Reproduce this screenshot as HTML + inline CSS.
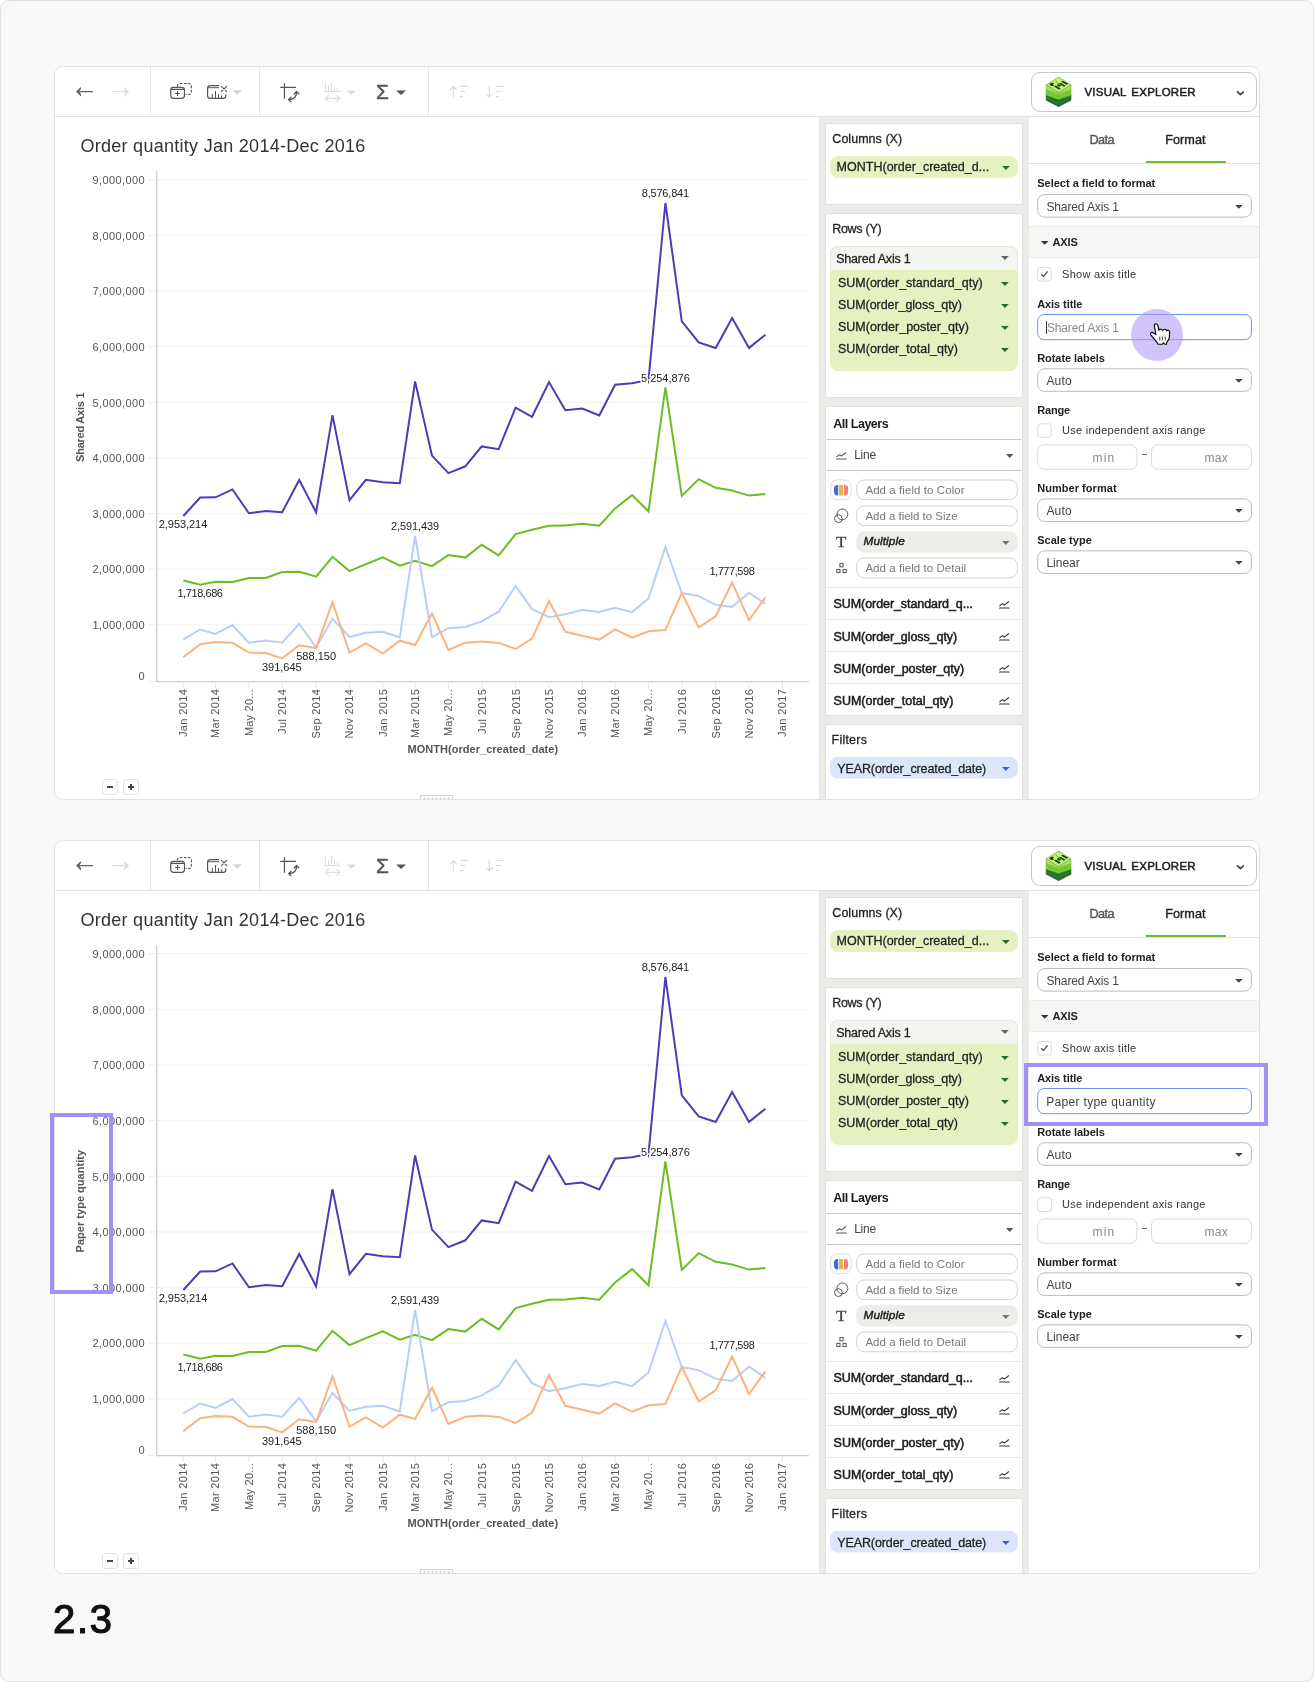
<!DOCTYPE html><html><head><meta charset="utf-8"><title>2.3</title><style>
*{box-sizing:border-box}
html,body{margin:0;padding:0;background:#fff}
body{width:1314px;height:1682px;position:relative;overflow:hidden;font-family:"Liberation Sans",sans-serif}
.page{position:absolute;left:0;top:0;width:1314px;height:1682px;background:#f8f8f6;border:1px solid #dee1dd;border-radius:9px}
.panel{position:absolute;left:0;width:1314px;height:0;will-change:transform}
.frame{position:absolute;left:54px;top:66px;width:1206px;height:734px;border:1px solid #e1e1de;border-radius:9px;background:#fff;overflow:hidden}
.o{position:absolute;left:-55px;top:-67px;width:1314px;height:900px}
.t{position:absolute;white-space:nowrap;font-family:"Liberation Sans",sans-serif}
.b{position:absolute;display:block}
.card{position:absolute;background:#fff;border:1px solid #dfe2dc}
.inp{position:absolute;background:#fff;border:1px solid #cfd3ce;border-radius:7px}
.sel{position:absolute;background:#fff;border:1px solid #b9bfba;border-radius:7px}
.hl{position:absolute;border:4px solid #a48ff7}
svg text{font-family:"Liberation Sans",sans-serif}
</style></head><body><div class="page"></div><div class="panel" style="top:0px"><div class="frame"><div class="o"><div class="b" style="left:55px;top:116px;width:1204px;height:1px;background:#e2e3e0"></div><div class="b" style="left:150px;top:67px;width:1px;height:49px;background:#e6e7e4"></div><div class="b" style="left:259px;top:67px;width:1px;height:49px;background:#e6e7e4"></div><div class="b" style="left:428px;top:67px;width:1px;height:49px;background:#e6e7e4"></div><svg class="b" style="left:55px;top:67px" width="500" height="49" viewBox="55 67 500 49" fill="none" stroke-linecap="round" stroke-linejoin="round"><path d="M92.8 91.55H78.6" stroke="#606360" stroke-width="1.25" stroke-linecap="butt"/><path d="M76 91.55L81 87V88.9L79.1 91.55L81 94.2V96.4Z" fill="#606360" stroke="none"/><path d="M112.2 91.55H126.4" stroke="#dcdcdc" stroke-width="1.25" stroke-linecap="butt"/><path d="M129 91.55L124 87V88.9L125.9 91.55L124 94.2V96.4Z" fill="#dcdcdc" stroke="none"/><path d="M177.4 86.6V86.2Q177.4 83.5 180.2 83.5H188.6Q191.4 83.5 191.4 86.2V91.8Q191.4 94.5 188.6 94.5H185.4" stroke="#555" stroke-width="1.1" stroke-dasharray="2.7 1.5" stroke-linecap="butt"/><rect x="170.7" y="87.4" width="13.8" height="11" rx="2.8" fill="#fff" stroke="#555" stroke-width="1.2"/><path d="M171.2 89.4H184M177.5 91.1V95.9M175.1 93.5H179.9" stroke="#555" stroke-width="1.1" stroke-linecap="butt"/><path d="M219 85.6H210.2Q207.6 85.6 207.6 88.2V95.7Q207.6 98.3 210.2 98.3H223.2Q225.8 98.3 225.8 95.7V94.2" stroke="#555" stroke-width="1.15" stroke-linecap="butt"/><path d="M207.8 87.7H219" stroke="#555" stroke-width="1" stroke-linecap="butt"/><path d="M212.3 94V98M215.5 91.1V98M218.5 94V98M221.6 95.4V98" stroke="#555" stroke-width="1.05" stroke-linecap="butt"/><path d="M221.3 86.3L226.7 91.7M226.7 86.3L221.3 91.7" stroke="#555" stroke-width="1.05"/><path d="M232.4 90.3H242L237.2 94.8Z" fill="#d3d6d3"/><path d="M284.45 83.2V98.7M280.2 87.45H296" stroke="#555" stroke-width="1.25" stroke-linecap="butt"/><path d="M296.6 92.2Q296.6 98.8 289.4 99.5" stroke="#555" stroke-width="1.3"/><path d="M294.3 94L296.6 91.5L298.9 93.9M291 97.2L288.6 99.6L290.9 101.8" stroke="#555" stroke-width="1.3"/><path d="M325.3 82.1V91.5H339.9M328.5 86.2V91.2M331.6 82.1V91.2M334.6 86.2V91.2M337.5 88.4V91.2" stroke="#dcdcdc" stroke-width="1.05" stroke-linecap="butt"/><path d="M325.6 98.4H339.6M328.4 95.4L325.3 98.4L328.4 101.4M336.8 95.4L339.9 98.4L336.8 101.4" stroke="#dcdcdc" stroke-width="1.3"/><path d="M346.6 90.5H356L351.3 94.8Z" fill="#d9dbd9"/><path d="M396.1 90.6H406L401.05 95Z" fill="#555"/><path d="M453.4 97V86.6M450.4 89.6L453.4 86.5L456.4 89.6" stroke="#dcdcdc" stroke-width="1.2"/><path d="M460.0 86.4H468.0M460.0 91.5H465.2M460.0 96.6H463.0" stroke="#dcdcdc" stroke-width="1.1" stroke-linecap="butt"/><path d="M489.3 86.3V96.8M486.3 93.8L489.3 96.9L492.3 93.8" stroke="#dcdcdc" stroke-width="1.2"/><path d="M495.90000000000003 86.4H503.90000000000003M495.90000000000003 91.5H501.1M495.90000000000003 96.6H498.90000000000003" stroke="#dcdcdc" stroke-width="1.1" stroke-linecap="butt"/></svg><span class="t" id="sig1" style="top:82.08px;font-size:19.4px;color:#555;line-height:20px;-webkit-text-stroke:0.5px #555;left:376.35px;transform:scaleX(1.07);transform-origin:0 50%;">Σ</span><div class="b" style="left:1031px;top:72px;width:226px;height:40px;border:1px solid #c2cac5;border-radius:9px;background:#fff"></div><svg class="b" style="left:1040px;top:72px" width="40" height="40" viewBox="1040 72 40 40"><path d="M1046.2 94.6L1058.6 98.6L1071.0 94.6L1071.0 100.3L1058.6 106.7L1046.2 100.3Z" fill="#22702d" stroke="#1c6229" stroke-width="0.6" stroke-linejoin="round"/><path d="M1046.2 97.6L1058.6 103.2L1071.0 97.6" fill="none" stroke="#2f8236" stroke-width="0.9"/><path d="M1046.2 88.8L1058.6 93.4L1071.0 88.8L1071.0 95.3L1058.6 99.6L1046.2 95.3Z" fill="#7ccd33" stroke="#5aa82c" stroke-width="0.5" stroke-linejoin="round"/><path d="M1046.2 92.2L1058.6 97.0L1071.0 92.2" fill="none" stroke="#64b52c" stroke-width="0.6"/><path d="M1046.2 84.8L1058.6 92.6L1071.0 84.8L1071.0 89.4L1058.6 94.4L1046.2 89.4Z" fill="#b6ea5f" stroke="#5e9e36" stroke-width="0.5" stroke-linejoin="round"/><path d="M1046.2 87.0L1058.6 93.6L1071.0 87.0" fill="none" stroke="#7fb848" stroke-width="0.45"/><path d="M1046.2 84.8L1058.6 77.0L1071.0 84.8L1058.6 92.6Z" fill="#c6f66f" stroke="#5e9e36" stroke-width="0.55" stroke-linejoin="round"/><path d="M1048.4 84.8L1058.6 78.4L1068.8 84.8L1058.6 91.2Z" fill="none" stroke="#a4d85a" stroke-width="0.4" stroke-linejoin="round"/><g fill="#0b4227" transform="translate(1058.6 84.8) scale(1.18) translate(-1058.9 -85.1)"><path d="M1051.2 84.6c.5-1.3 2.4-1.7 3.9-1l-1.1 1.1 1.1 1.1c-1.2.7-3.3.3-3.9-1.2z"/><path d="M1061 82.5l1.5-.9 4.6 2.6-1.5.9z"/><path d="M1059 84.2l1.5-.9 4.4 2.6-1.5.9z"/><path d="M1055 86.6l1.5-.9 4.2 2.6-1.5.9z"/><path d="M1057.2 85.4l1.5-.9 2.4 1.4-1.5.9z"/></g><path d="M1055.4 80.6l3.8 3.4" stroke="#4f8a38" stroke-width="0.9" fill="none" opacity="0.8"/></svg><span class="t" id="t2" style="top:82.22px;font-size:11.5px;color:#222;line-height:20px;-webkit-text-stroke:0.5px #222;letter-spacing:0.234px;left:1084.45px;word-spacing:1.6px;">VISUAL EXPLORER</span><svg class="b" style="left:1236px;top:90px" width="9" height="7" viewBox="0 0 9 7"><path d="M1.4 1.8L4.4 4.7L7.4 1.8" fill="none" stroke="#444" stroke-width="1.6" stroke-linecap="round" stroke-linejoin="round"/></svg><span class="t" id="t3" style="top:136.26px;font-size:18px;color:#333;line-height:20px;letter-spacing:0.282px;left:80.40px;">Order quantity Jan 2014-Dec 2016</span><svg class="b" style="left:55px;top:117px" width="764" height="682" viewBox="55 117 764 682"><line x1="148.5" x2="154.5" y1="681.50" y2="681.50" stroke="#ebebeb" stroke-width="1"/><text x="144.6" y="680.0" text-anchor="end" font-size="11" fill="#555">0</text><line x1="157" x2="808" y1="624.86" y2="624.86" stroke="#f1f1f1" stroke-width="1"/><line x1="148.5" x2="154.5" y1="624.86" y2="624.86" stroke="#ebebeb" stroke-width="1"/><text x="144.6" y="629.1" text-anchor="end" font-size="11" fill="#555" textLength="52.1" lengthAdjust="spacing">1,000,000</text><line x1="157" x2="808" y1="569.21" y2="569.21" stroke="#f1f1f1" stroke-width="1"/><line x1="148.5" x2="154.5" y1="569.21" y2="569.21" stroke="#ebebeb" stroke-width="1"/><text x="144.6" y="573.4" text-anchor="end" font-size="11" fill="#555" textLength="52.1" lengthAdjust="spacing">2,000,000</text><line x1="157" x2="808" y1="513.57" y2="513.57" stroke="#f1f1f1" stroke-width="1"/><line x1="148.5" x2="154.5" y1="513.57" y2="513.57" stroke="#ebebeb" stroke-width="1"/><text x="144.6" y="517.8" text-anchor="end" font-size="11" fill="#555" textLength="52.1" lengthAdjust="spacing">3,000,000</text><line x1="157" x2="808" y1="457.92" y2="457.92" stroke="#f1f1f1" stroke-width="1"/><line x1="148.5" x2="154.5" y1="457.92" y2="457.92" stroke="#ebebeb" stroke-width="1"/><text x="144.6" y="462.1" text-anchor="end" font-size="11" fill="#555" textLength="52.1" lengthAdjust="spacing">4,000,000</text><line x1="157" x2="808" y1="402.27" y2="402.27" stroke="#f1f1f1" stroke-width="1"/><line x1="148.5" x2="154.5" y1="402.27" y2="402.27" stroke="#ebebeb" stroke-width="1"/><text x="144.6" y="406.5" text-anchor="end" font-size="11" fill="#555" textLength="52.1" lengthAdjust="spacing">5,000,000</text><line x1="157" x2="808" y1="346.63" y2="346.63" stroke="#f1f1f1" stroke-width="1"/><line x1="148.5" x2="154.5" y1="346.63" y2="346.63" stroke="#ebebeb" stroke-width="1"/><text x="144.6" y="350.8" text-anchor="end" font-size="11" fill="#555" textLength="52.1" lengthAdjust="spacing">6,000,000</text><line x1="157" x2="808" y1="290.98" y2="290.98" stroke="#f1f1f1" stroke-width="1"/><line x1="148.5" x2="154.5" y1="290.98" y2="290.98" stroke="#ebebeb" stroke-width="1"/><text x="144.6" y="295.2" text-anchor="end" font-size="11" fill="#555" textLength="52.1" lengthAdjust="spacing">7,000,000</text><line x1="157" x2="808" y1="235.34" y2="235.34" stroke="#f1f1f1" stroke-width="1"/><line x1="148.5" x2="154.5" y1="235.34" y2="235.34" stroke="#ebebeb" stroke-width="1"/><text x="144.6" y="239.5" text-anchor="end" font-size="11" fill="#555" textLength="52.1" lengthAdjust="spacing">8,000,000</text><line x1="157" x2="808" y1="179.69" y2="179.69" stroke="#f1f1f1" stroke-width="1"/><line x1="148.5" x2="154.5" y1="179.69" y2="179.69" stroke="#ebebeb" stroke-width="1"/><text x="144.6" y="183.9" text-anchor="end" font-size="11" fill="#555" textLength="52.1" lengthAdjust="spacing">9,000,000</text><line x1="156.7" x2="156.7" y1="171.2" y2="682" stroke="#cfcfcf" stroke-width="1.3"/><line x1="156" x2="808.8" y1="681.6" y2="681.6" stroke="#cfcfcf" stroke-width="1.3"/><line x1="183.30" x2="183.30" y1="682" y2="688" stroke="#e6e6e6" stroke-width="1.1"/><text transform="translate(187.20,689.2) rotate(-90)" text-anchor="end" font-size="11" fill="#555" textLength="47.9" lengthAdjust="spacing">Jan 2014</text><line x1="215.55" x2="215.55" y1="682" y2="688" stroke="#e6e6e6" stroke-width="1.1"/><text transform="translate(219.45,689.2) rotate(-90)" text-anchor="end" font-size="11" fill="#555" textLength="48.8" lengthAdjust="spacing">Mar 2014</text><line x1="248.89" x2="248.89" y1="682" y2="688" stroke="#e6e6e6" stroke-width="1.1"/><text transform="translate(252.79,689.2) rotate(-90)" text-anchor="end" font-size="11" fill="#555" textLength="46.9" lengthAdjust="spacing">May 20...</text><line x1="282.23" x2="282.23" y1="682" y2="688" stroke="#e6e6e6" stroke-width="1.1"/><text transform="translate(286.13,689.2) rotate(-90)" text-anchor="end" font-size="11" fill="#555" textLength="44.9" lengthAdjust="spacing">Jul 2014</text><line x1="316.12" x2="316.12" y1="682" y2="688" stroke="#e6e6e6" stroke-width="1.1"/><text transform="translate(320.02,689.2) rotate(-90)" text-anchor="end" font-size="11" fill="#555" textLength="49.4" lengthAdjust="spacing">Sep 2014</text><line x1="349.47" x2="349.47" y1="682" y2="688" stroke="#e6e6e6" stroke-width="1.1"/><text transform="translate(353.37,689.2) rotate(-90)" text-anchor="end" font-size="11" fill="#555" textLength="49.3" lengthAdjust="spacing">Nov 2014</text><line x1="382.81" x2="382.81" y1="682" y2="688" stroke="#e6e6e6" stroke-width="1.1"/><text transform="translate(386.71,689.2) rotate(-90)" text-anchor="end" font-size="11" fill="#555" textLength="47.9" lengthAdjust="spacing">Jan 2015</text><line x1="415.06" x2="415.06" y1="682" y2="688" stroke="#e6e6e6" stroke-width="1.1"/><text transform="translate(418.96,689.2) rotate(-90)" text-anchor="end" font-size="11" fill="#555" textLength="48.8" lengthAdjust="spacing">Mar 2015</text><line x1="448.40" x2="448.40" y1="682" y2="688" stroke="#e6e6e6" stroke-width="1.1"/><text transform="translate(452.30,689.2) rotate(-90)" text-anchor="end" font-size="11" fill="#555" textLength="46.9" lengthAdjust="spacing">May 20...</text><line x1="481.74" x2="481.74" y1="682" y2="688" stroke="#e6e6e6" stroke-width="1.1"/><text transform="translate(485.64,689.2) rotate(-90)" text-anchor="end" font-size="11" fill="#555" textLength="44.9" lengthAdjust="spacing">Jul 2015</text><line x1="515.63" x2="515.63" y1="682" y2="688" stroke="#e6e6e6" stroke-width="1.1"/><text transform="translate(519.53,689.2) rotate(-90)" text-anchor="end" font-size="11" fill="#555" textLength="49.4" lengthAdjust="spacing">Sep 2015</text><line x1="548.98" x2="548.98" y1="682" y2="688" stroke="#e6e6e6" stroke-width="1.1"/><text transform="translate(552.88,689.2) rotate(-90)" text-anchor="end" font-size="11" fill="#555" textLength="49.3" lengthAdjust="spacing">Nov 2015</text><line x1="582.32" x2="582.32" y1="682" y2="688" stroke="#e6e6e6" stroke-width="1.1"/><text transform="translate(586.22,689.2) rotate(-90)" text-anchor="end" font-size="11" fill="#555" textLength="47.9" lengthAdjust="spacing">Jan 2016</text><line x1="615.11" x2="615.11" y1="682" y2="688" stroke="#e6e6e6" stroke-width="1.1"/><text transform="translate(619.01,689.2) rotate(-90)" text-anchor="end" font-size="11" fill="#555" textLength="48.8" lengthAdjust="spacing">Mar 2016</text><line x1="648.46" x2="648.46" y1="682" y2="688" stroke="#e6e6e6" stroke-width="1.1"/><text transform="translate(652.36,689.2) rotate(-90)" text-anchor="end" font-size="11" fill="#555" textLength="46.9" lengthAdjust="spacing">May 20...</text><line x1="681.80" x2="681.80" y1="682" y2="688" stroke="#e6e6e6" stroke-width="1.1"/><text transform="translate(685.70,689.2) rotate(-90)" text-anchor="end" font-size="11" fill="#555" textLength="44.9" lengthAdjust="spacing">Jul 2016</text><line x1="715.69" x2="715.69" y1="682" y2="688" stroke="#e6e6e6" stroke-width="1.1"/><text transform="translate(719.59,689.2) rotate(-90)" text-anchor="end" font-size="11" fill="#555" textLength="49.4" lengthAdjust="spacing">Sep 2016</text><line x1="749.03" x2="749.03" y1="682" y2="688" stroke="#e6e6e6" stroke-width="1.1"/><text transform="translate(752.93,689.2) rotate(-90)" text-anchor="end" font-size="11" fill="#555" textLength="49.3" lengthAdjust="spacing">Nov 2016</text><line x1="782.37" x2="782.37" y1="682" y2="688" stroke="#e6e6e6" stroke-width="1.1"/><text transform="translate(786.27,689.2) rotate(-90)" text-anchor="end" font-size="11" fill="#555" textLength="47.9" lengthAdjust="spacing">Jan 2017</text><polyline points="183.3,516.0 200.2,497.5 215.5,497.3 232.5,489.4 248.9,513.3 265.8,511.1 282.2,512.3 299.2,480.0 316.1,512.3 332.5,415.1 349.5,500.1 365.9,479.8 382.8,482.2 399.8,483.3 415.1,381.5 432.0,455.6 448.4,473.1 465.3,466.3 481.7,446.4 498.7,449.2 515.6,407.7 532.0,416.8 549.0,382.0 565.4,410.3 582.3,408.5 599.3,415.4 615.1,384.7 632.1,383.3 648.5,380.0 665.4,203.0 681.8,321.4 698.7,342.5 715.7,348.0 732.1,318.0 749.0,347.9 765.4,334.8" fill="none" stroke="#503ab5" stroke-width="2" stroke-linejoin="miter" stroke-linecap="butt"/><polyline points="183.3,580.5 200.2,584.8 215.5,581.8 232.5,582.0 248.9,578.0 265.8,578.0 282.2,572.0 299.2,571.7 316.1,576.6 332.5,556.8 349.5,571.1 365.9,564.2 382.8,557.4 399.8,565.7 415.1,560.9 432.0,566.1 448.4,555.1 465.3,557.6 481.7,544.8 498.7,555.4 515.6,534.1 532.0,529.8 549.0,525.8 565.4,525.5 582.3,523.8 599.3,525.7 615.1,508.4 632.1,495.1 648.5,511.3 665.4,387.3 681.8,496.0 698.7,479.1 715.7,487.8 732.1,490.6 749.0,495.6 765.4,493.9" fill="none" stroke="#6bbd22" stroke-width="2" stroke-linejoin="miter" stroke-linecap="butt"/><polyline points="183.3,639.3 200.2,629.5 215.5,634.0 232.5,625.1 248.9,642.7 265.8,640.6 282.2,642.7 299.2,623.8 316.1,647.4 332.5,618.8 349.5,636.9 365.9,632.8 382.8,631.8 399.8,637.5 415.1,536.0 432.0,637.1 448.4,628.2 465.3,627.0 481.7,621.4 498.7,611.7 515.6,586.0 532.0,609.2 549.0,617.2 565.4,614.2 582.3,609.9 599.3,612.0 615.1,607.7 632.1,612.1 648.5,598.4 665.4,547.0 681.8,593.1 698.7,596.1 715.7,604.9 732.1,606.9 749.0,592.7 765.4,603.9" fill="none" stroke="#b8cefa" stroke-width="2" stroke-linejoin="miter" stroke-linecap="butt"/><polyline points="183.3,657.1 200.2,644.3 215.5,642.1 232.5,642.8 248.9,652.6 265.8,653.1 282.2,658.4 299.2,645.3 316.1,648.1 332.5,602.2 349.5,652.6 365.9,643.4 382.8,653.5 399.8,640.7 415.1,645.0 432.0,613.6 448.4,649.9 465.3,642.8 481.7,641.5 498.7,642.9 515.6,649.0 532.0,638.6 549.0,601.1 565.4,631.8 582.3,635.8 599.3,639.6 615.1,629.4 632.1,637.6 648.5,631.3 665.4,630.1 681.8,592.8 698.7,627.5 715.7,616.2 732.1,582.5 749.0,620.0 765.4,597.4" fill="none" stroke="#fbb37c" stroke-width="2" stroke-linejoin="miter" stroke-linecap="butt"/><text x="665.4" y="197.0" text-anchor="middle" font-size="11" textLength="47.4" lengthAdjust="spacing" fill="#fff" stroke="#fff" stroke-width="3" stroke-linejoin="round" aria-hidden="true">8,576,841</text><text x="665.4" y="197.0" text-anchor="middle" font-size="11" textLength="47.4" lengthAdjust="spacing" fill="#222">8,576,841</text><text x="665.4" y="381.9" text-anchor="middle" font-size="11" textLength="48.8" lengthAdjust="spacing" fill="#fff" stroke="#fff" stroke-width="3" stroke-linejoin="round" aria-hidden="true">5,254,876</text><text x="665.4" y="381.9" text-anchor="middle" font-size="11" textLength="48.8" lengthAdjust="spacing" fill="#222">5,254,876</text><text x="415.1" y="529.7" text-anchor="middle" font-size="11" textLength="48.2" lengthAdjust="spacing" fill="#fff" stroke="#fff" stroke-width="3" stroke-linejoin="round" aria-hidden="true">2,591,439</text><text x="415.1" y="529.7" text-anchor="middle" font-size="11" textLength="48.2" lengthAdjust="spacing" fill="#222">2,591,439</text><text x="732.1" y="575.0" text-anchor="middle" font-size="11" textLength="45.4" lengthAdjust="spacing" fill="#fff" stroke="#fff" stroke-width="3" stroke-linejoin="round" aria-hidden="true">1,777,598</text><text x="732.1" y="575.0" text-anchor="middle" font-size="11" textLength="45.4" lengthAdjust="spacing" fill="#222">1,777,598</text><text x="183.0" y="528.4" text-anchor="middle" font-size="11" textLength="48.5" lengthAdjust="spacing" fill="#fff" stroke="#fff" stroke-width="3" stroke-linejoin="round" aria-hidden="true">2,953,214</text><text x="183.0" y="528.4" text-anchor="middle" font-size="11" textLength="48.5" lengthAdjust="spacing" fill="#222">2,953,214</text><text x="200.2" y="596.8" text-anchor="middle" font-size="11" textLength="45.6" lengthAdjust="spacing" fill="#fff" stroke="#fff" stroke-width="3" stroke-linejoin="round" aria-hidden="true">1,718,686</text><text x="200.2" y="596.8" text-anchor="middle" font-size="11" textLength="45.6" lengthAdjust="spacing" fill="#222">1,718,686</text><text x="281.8" y="671.0" text-anchor="middle" font-size="11" textLength="39.8" lengthAdjust="spacing" fill="#fff" stroke="#fff" stroke-width="3" stroke-linejoin="round" aria-hidden="true">391,645</text><text x="281.8" y="671.0" text-anchor="middle" font-size="11" textLength="39.8" lengthAdjust="spacing" fill="#222">391,645</text><text x="316.1" y="659.6" text-anchor="middle" font-size="11" textLength="39.8" lengthAdjust="spacing" fill="#fff" stroke="#fff" stroke-width="3" stroke-linejoin="round" aria-hidden="true">588,150</text><text x="316.1" y="659.6" text-anchor="middle" font-size="11" textLength="39.8" lengthAdjust="spacing" fill="#222">588,150</text><text x="482.8" y="752.6" text-anchor="middle" font-size="11" font-weight="700" fill="#555" textLength="150.6" lengthAdjust="spacing">MONTH(order_created_date)</text><text transform="translate(84.3,427.2) rotate(-90)" text-anchor="middle" font-size="11" font-weight="700" fill="#555" textLength="69.5" lengthAdjust="spacing">Shared Axis 1</text><rect x="420.5" y="795.5" width="32" height="6" fill="#fff" stroke="#d3d7d4" stroke-width="1"/><rect x="423.5" y="797.6" width="2" height="1.6" fill="#cfd3d0"/><rect x="427.5" y="797.6" width="2" height="1.6" fill="#cfd3d0"/><rect x="431.5" y="797.6" width="2" height="1.6" fill="#cfd3d0"/><rect x="435.5" y="797.6" width="2" height="1.6" fill="#cfd3d0"/><rect x="439.5" y="797.6" width="2" height="1.6" fill="#cfd3d0"/><rect x="443.5" y="797.6" width="2" height="1.6" fill="#cfd3d0"/><rect x="447.5" y="797.6" width="2" height="1.6" fill="#cfd3d0"/></svg><div class="b" style="left:102px;top:779px;width:16px;height:16px;border:1px solid #e3e3e0;border-radius:3px;background:#fff"></div><div class="b" style="left:123px;top:779px;width:16px;height:16px;border:1px solid #e3e3e0;border-radius:3px;background:#fff"></div><div class="b" style="left:107px;top:786px;width:6px;height:1.8px;background:#444"></div><div class="b" style="left:128px;top:786px;width:6px;height:1.8px;background:#444"></div><div class="b" style="left:130.1px;top:784px;width:1.8px;height:6px;background:#444"></div><div class="b" style="left:819px;top:117px;width:210px;height:690px;background:#e9ece7;border-left:1px solid #e1e4df"></div><div class="card" style="left:825px;top:123px;width:198px;height:82px"></div><span class="t" id="t4" style="top:128.77px;font-size:12.5px;color:#222;line-height:20px;-webkit-text-stroke:0.28px #222;letter-spacing:0.032px;left:832.34px;">Columns (X)</span><svg class="b" style="left:829px;top:155px" width="190" height="24" viewBox="829 155 190 24"><rect x="830.20" y="156.00" width="187.80" height="22.00" rx="8.00" fill="#e6f1c1"/></svg><span class="t" id="t5" style="top:156.67px;font-size:12.5px;color:#222;line-height:20px;-webkit-text-stroke:0.28px #222;letter-spacing:0.020px;left:836.54px;">MONTH(order_created_d...</span><svg class="b" style="left:1002px;top:165.9px" width="7.8" height="4" viewBox="0 0 7.8 4"><path d="M0 0H7.8L3.9 4Z" fill="#2d6b22"/></svg><div class="card" style="left:825px;top:213px;width:198px;height:185px"></div><span class="t" id="t6" style="top:218.87px;font-size:12.5px;color:#222;line-height:20px;-webkit-text-stroke:0.28px #222;letter-spacing:-0.258px;left:832.14px;">Rows (Y)</span><div class="b" style="left:830px;top:246px;width:188px;height:125px;background:#e6f1c1;border-radius:8px"></div><div class="b" style="left:830px;top:246px;width:188px;height:24px;background:#f3f5f1;border-radius:8px 8px 0 0;border:1px solid #e6e9e4;border-bottom:none"></div><span class="t" id="t7" style="top:248.57px;font-size:12.5px;color:#222;line-height:20px;-webkit-text-stroke:0.28px #222;letter-spacing:-0.212px;left:836.14px;">Shared Axis 1</span><svg class="b" style="left:1001.2px;top:256px" width="7.8" height="4" viewBox="0 0 7.8 4"><path d="M0 0H7.8L3.9 4Z" fill="#666"/></svg><span class="t" id="t8" style="top:272.77px;font-size:12.5px;color:#222;line-height:20px;-webkit-text-stroke:0.28px #222;letter-spacing:0.008px;left:837.94px;">SUM(order_standard_qty)</span><svg class="b" style="left:1001.2px;top:281.70000000000005px" width="7.8" height="4" viewBox="0 0 7.8 4"><path d="M0 0H7.8L3.9 4Z" fill="#2d6b22"/></svg><span class="t" id="t9" style="top:294.72px;font-size:12.5px;color:#222;line-height:20px;-webkit-text-stroke:0.28px #222;letter-spacing:-0.056px;left:837.94px;">SUM(order_gloss_qty)</span><svg class="b" style="left:1001.2px;top:303.65000000000003px" width="7.8" height="4" viewBox="0 0 7.8 4"><path d="M0 0H7.8L3.9 4Z" fill="#2d6b22"/></svg><span class="t" id="t10" style="top:316.67px;font-size:12.5px;color:#222;line-height:20px;-webkit-text-stroke:0.28px #222;letter-spacing:0.014px;left:837.94px;">SUM(order_poster_qty)</span><svg class="b" style="left:1001.2px;top:325.6px" width="7.8" height="4" viewBox="0 0 7.8 4"><path d="M0 0H7.8L3.9 4Z" fill="#2d6b22"/></svg><span class="t" id="t11" style="top:338.62px;font-size:12.5px;color:#222;line-height:20px;-webkit-text-stroke:0.28px #222;letter-spacing:0.026px;left:837.94px;">SUM(order_total_qty)</span><svg class="b" style="left:1001.2px;top:347.55000000000007px" width="7.8" height="4" viewBox="0 0 7.8 4"><path d="M0 0H7.8L3.9 4Z" fill="#2d6b22"/></svg><div class="card" style="left:825px;top:406px;width:198px;height:310px"></div><span class="t" id="t12" style="top:413.77px;font-size:12.5px;color:#1a1a1a;line-height:20px;font-weight:700;letter-spacing:-0.489px;left:833.30px;">All Layers</span><div class="b" style="left:826px;top:439px;width:196px;height:1px;background:#c9cfcb"></div><svg class="b" style="left:836.3px;top:452.4px" width="11" height="8" viewBox="0 0 11 8" fill="none" stroke="#555" stroke-linecap="round" stroke-linejoin="round"><path d="M0.8 4.6L3.4 2.7L5.6 3.9L9.6 0.8" stroke-width="1.1"/><path d="M0.6 7H10.2" stroke-width="1.2"/></svg><span class="t" id="t13" style="top:444.84px;font-size:12px;color:#444;line-height:20px;letter-spacing:-0.271px;left:854.20px;">Line</span><svg class="b" style="left:1006.4px;top:453.6px" width="7.4" height="4" viewBox="0 0 7.4 4"><path d="M0 0H7.4L3.7 4Z" fill="#555"/></svg><div class="b" style="left:826px;top:470px;width:196px;height:1px;background:#c9cfcb"></div><svg class="b" style="left:829px;top:478px" width="24" height="24" viewBox="829 478 24 24"><rect x="830.70" y="479.90" width="20.40" height="19.80" rx="6.50" fill="#fff" stroke="#dcdfda" stroke-width="1"/></svg><svg class="b" style="left:834px;top:484.6px" width="15" height="11" viewBox="0 0 15 11"><path d="M3.6 0H4.2V10.4H3.6Q0 10.4 0 6.8V3.6Q0 0 3.6 0Z" fill="#4169d8"/><rect x="5" y="0" width="4" height="10.4" fill="#e8b93c"/><path d="M9.9 0H10.6Q14.2 0 14.2 3.6V6.8Q14.2 10.4 10.6 10.4H9.9Z" fill="#f47a8e"/></svg><svg class="b" style="left:855px;top:478px" width="164" height="24" viewBox="855 478 164 24"><rect x="856.70" y="480.00" width="160.60" height="19.70" rx="7.50" fill="#fff" stroke="#cfd3ce" stroke-width="1"/></svg><span class="t" id="t14" style="top:479.92px;font-size:11.5px;color:#777;line-height:20px;letter-spacing:0.075px;left:865.40px;">Add a field to Color</span><svg class="b" style="left:833px;top:508px" width="17" height="16" viewBox="0 0 17 16" fill="none" stroke="#555" stroke-width="1"><circle cx="9.4" cy="6.4" r="5.4"/><circle cx="5.4" cy="10.6" r="3.9"/></svg><svg class="b" style="left:855px;top:504px" width="164" height="24" viewBox="855 504 164 24"><rect x="856.70" y="506.00" width="160.60" height="19.70" rx="7.50" fill="#fff" stroke="#cfd3ce" stroke-width="1"/></svg><span class="t" id="t15" style="top:506.12px;font-size:11.5px;color:#777;line-height:20px;letter-spacing:-0.028px;left:865.40px;">Add a field to Size</span><span class="t" id="t16" style="top:531.81px;font-size:14.7px;color:#444;line-height:20px;-webkit-text-stroke:0.3px #444;left:835.95px;font-family:&quot;Liberation Serif&quot;,serif;transform:scaleX(1.15);transform-origin:0 50%;">T</span><svg class="b" style="left:855px;top:530px" width="164" height="24" viewBox="855 530 164 24"><rect x="856.20" y="531.30" width="161.60" height="21.10" rx="8.00" fill="#ebede9"/></svg><span class="t" id="t17" style="top:531.01px;font-size:11.8px;color:#222;line-height:20px;-webkit-text-stroke:0.45px #222;font-style:italic;letter-spacing:0.080px;left:863.53px;">Multiple</span><svg class="b" style="left:1002.4px;top:540.8px" width="7.6" height="4" viewBox="0 0 7.6 4"><path d="M0 0H7.6L3.8 4Z" fill="#777"/></svg><svg class="b" style="left:835.5px;top:563px" width="12" height="11" viewBox="0 0 12 11" fill="none" stroke="#555" stroke-width="1"><rect x="3.9" y="0.6" width="3.2" height="3.2"/><rect x="0.8" y="6.4" width="3.2" height="3.2"/><rect x="7" y="6.4" width="3.2" height="3.2"/></svg><svg class="b" style="left:855px;top:556px" width="164" height="24" viewBox="855 556 164 24"><rect x="856.70" y="557.90" width="160.60" height="19.90" rx="7.50" fill="#fff" stroke="#cfd3ce" stroke-width="1"/></svg><span class="t" id="t18" style="top:557.92px;font-size:11.5px;color:#777;line-height:20px;letter-spacing:0.046px;left:865.40px;">Add a field to Detail</span><div class="b" style="left:826px;top:587px;width:196px;height:1px;background:#e6e8e4"></div><span class="t" id="t19" style="top:594.47px;font-size:12.5px;color:#1a1a1a;line-height:20px;-webkit-text-stroke:0.5px #1a1a1a;letter-spacing:-0.076px;left:833.55px;">SUM(order_standard_q...</span><svg class="b" style="left:998.6px;top:600.7px" width="11" height="8" viewBox="0 0 11 8" fill="none" stroke="#333" stroke-linecap="round" stroke-linejoin="round"><path d="M0.8 4.6L3.4 2.7L5.6 3.9L9.6 0.8" stroke-width="1.1"/><path d="M0.6 7H10.2" stroke-width="1.2"/></svg><div class="b" style="left:826px;top:619px;width:196px;height:1px;background:#e6e8e4"></div><span class="t" id="t20" style="top:626.50px;font-size:12.5px;color:#1a1a1a;line-height:20px;-webkit-text-stroke:0.5px #1a1a1a;letter-spacing:-0.078px;left:833.55px;">SUM(order_gloss_qty)</span><svg class="b" style="left:998.6px;top:632.73px" width="11" height="8" viewBox="0 0 11 8" fill="none" stroke="#333" stroke-linecap="round" stroke-linejoin="round"><path d="M0.8 4.6L3.4 2.7L5.6 3.9L9.6 0.8" stroke-width="1.1"/><path d="M0.6 7H10.2" stroke-width="1.2"/></svg><div class="b" style="left:826px;top:651px;width:196px;height:1px;background:#e6e8e4"></div><span class="t" id="t21" style="top:658.53px;font-size:12.5px;color:#1a1a1a;line-height:20px;-webkit-text-stroke:0.5px #1a1a1a;letter-spacing:0.003px;left:833.55px;">SUM(order_poster_qty)</span><svg class="b" style="left:998.6px;top:664.76px" width="11" height="8" viewBox="0 0 11 8" fill="none" stroke="#333" stroke-linecap="round" stroke-linejoin="round"><path d="M0.8 4.6L3.4 2.7L5.6 3.9L9.6 0.8" stroke-width="1.1"/><path d="M0.6 7H10.2" stroke-width="1.2"/></svg><div class="b" style="left:826px;top:683px;width:196px;height:1px;background:#e6e8e4"></div><span class="t" id="t22" style="top:690.56px;font-size:12.5px;color:#1a1a1a;line-height:20px;-webkit-text-stroke:0.5px #1a1a1a;letter-spacing:0.014px;left:833.55px;">SUM(order_total_qty)</span><svg class="b" style="left:998.6px;top:696.7900000000001px" width="11" height="8" viewBox="0 0 11 8" fill="none" stroke="#333" stroke-linecap="round" stroke-linejoin="round"><path d="M0.8 4.6L3.4 2.7L5.6 3.9L9.6 0.8" stroke-width="1.1"/><path d="M0.6 7H10.2" stroke-width="1.2"/></svg><div class="card" style="left:825px;top:724px;width:198px;height:100px"></div><span class="t" id="t23" style="top:729.67px;font-size:12.5px;color:#222;line-height:20px;-webkit-text-stroke:0.28px #222;letter-spacing:0.224px;left:831.54px;">Filters</span><svg class="b" style="left:828px;top:755px" width="191" height="25" viewBox="828 755 191 25"><rect x="829.80" y="756.70" width="188.00" height="21.90" rx="8.00" fill="#dce5fa"/></svg><span class="t" id="t24" style="top:758.57px;font-size:12.5px;color:#222;line-height:20px;-webkit-text-stroke:0.28px #222;letter-spacing:-0.108px;left:837.24px;">YEAR(order_created_date)</span><svg class="b" style="left:1002.2px;top:766.8px" width="7.6" height="4" viewBox="0 0 7.6 4"><path d="M0 0H7.6L3.8 4Z" fill="#3a62d8"/></svg><div class="b" style="left:1029px;top:117px;width:230px;height:690px;background:#fff"></div><div class="b" style="left:1029px;top:163px;width:230px;height:1px;background:#e2e3e0"></div><div class="b" style="left:1146px;top:161px;width:80px;height:2px;background:#6bbd22"></div><span class="t" id="t25" style="top:129.90px;font-size:12.7px;color:#555;line-height:20px;-webkit-text-stroke:0.4px #555;letter-spacing:-0.515px;left:1089.40px;">Data</span><span class="t" id="t26" style="top:129.90px;font-size:12.7px;color:#222;line-height:20px;-webkit-text-stroke:0.4px #222;letter-spacing:0.029px;left:1165.20px;">Format</span><span class="t" id="t27" style="top:172.99px;font-size:11px;color:#222;line-height:20px;font-weight:700;letter-spacing:0.004px;left:1037.20px;">Select a field to format</span><svg class="b" style="left:1036px;top:193px" width="217" height="26" viewBox="1036 193 217 26"><rect x="1037.70" y="194.60" width="213.70" height="22.50" rx="6.50" fill="#fff" stroke="#b9bfba" stroke-width="1"/></svg><span class="t" id="t28" style="top:197.04px;font-size:12px;color:#444;line-height:20px;letter-spacing:-0.119px;left:1046.40px;">Shared Axis 1</span><svg class="b" style="left:1235px;top:204.9px" width="7.8" height="3.8" viewBox="0 0 7.8 3.8"><path d="M0 0H7.8L3.9 3.8Z" fill="#444"/></svg><div class="b" style="left:1029px;top:226px;width:230px;height:32px;background:#f6f6f4;border-top:1px solid #ececea;border-bottom:1px solid #ececea"></div><svg class="b" style="left:1040.5px;top:241px" width="7.4" height="3.8" viewBox="0 0 7.4 3.8"><path d="M0 0H7.4L3.7 3.8Z" fill="#333"/></svg><span class="t" id="t29" style="top:231.79px;font-size:11px;color:#222;line-height:20px;font-weight:700;letter-spacing:-0.112px;left:1052.40px;">AXIS</span><svg class="b" style="left:1036px;top:266px" width="17" height="17" viewBox="1036 266 17 17"><rect x="1037.70" y="267.50" width="13.60" height="13.60" rx="2.50" fill="#fff" stroke="#d9dcd7" stroke-width="1"/></svg><svg class="b" style="left:1040px;top:270.4px" width="9" height="8" viewBox="0 0 9 8"><path d="M1.2 4.3L3.4 6.4L7.6 1.4" fill="none" stroke="#555" stroke-width="1.4"/></svg><span class="t" id="t30" style="top:263.79px;font-size:11px;color:#333;line-height:20px;letter-spacing:0.258px;left:1062.10px;">Show axis title</span><span class="t" id="t31" style="top:293.89px;font-size:11px;color:#222;line-height:20px;font-weight:700;letter-spacing:-0.081px;left:1037.20px;">Axis title</span><svg class="b" style="left:1036px;top:313px" width="217" height="29" viewBox="1036 313 217 29"><rect x="1037.70" y="314.50" width="213.70" height="25.20" rx="6.50" fill="#fff" stroke="#6b93f3" stroke-width="1"/></svg><span class="t" id="t32" style="top:317.84px;font-size:12px;color:#8a8a8a;line-height:20px;letter-spacing:-0.169px;left:1047.00px;">Shared Axis 1</span><div class="b" style="left:1046.2px;top:320.5px;width:1px;height:13.5px;background:#333"></div><div class="b" style="left:1131px;top:309px;width:52px;height:52px;background:rgba(172,152,248,0.57);border-radius:50%"></div><svg class="b" style="left:1145px;top:318px" width="30" height="32" viewBox="1145 318 30 32"><path d="M1154.3 325.4Q1154.3 323.8 1155.9 323.8Q1157.5 323.9 1157.9 325.6L1158.9 330.3Q1159.6 329 1161 329.2Q1162.3 329.4 1162.6 330.6Q1163.4 329.2 1164.8 329.3Q1166.2 329.5 1166.5 330.8Q1167.3 329.9 1168.5 330.3Q1169.8 330.8 1169.7 332.4L1169.3 337.6Q1169 339.5 1167.6 341L1166.6 342.6V344.2H1164.8L1163.6 342.9L1162.4 344.2H1158L1157 342.4L1150.8 334.8Q1150 333.7 1151 332.8Q1152 332 1153.2 332.8L1155.9 334.6Z" fill="#fff" stroke="#0a0a0a" stroke-width="1.15" stroke-linejoin="round"/><path d="M1159.8 336.4V340.6M1162.4 336.4V340.6M1165.3 336.4V340.6" stroke="#555" stroke-width="1.1" fill="none"/></svg><span class="t" id="t33" style="top:348.09px;font-size:11px;color:#222;line-height:20px;font-weight:700;letter-spacing:-0.062px;left:1037.20px;">Rotate labels</span><svg class="b" style="left:1036px;top:367px" width="217" height="26" viewBox="1036 367 217 26"><rect x="1037.70" y="368.80" width="213.70" height="22.50" rx="6.50" fill="#fff" stroke="#b9bfba" stroke-width="1"/></svg><span class="t" id="t34" style="top:371.24px;font-size:12px;color:#444;line-height:20px;letter-spacing:0.229px;left:1046.40px;">Auto</span><svg class="b" style="left:1235px;top:379.09999999999997px" width="7.8" height="3.8" viewBox="0 0 7.8 3.8"><path d="M0 0H7.8L3.9 3.8Z" fill="#444"/></svg><span class="t" id="t35" style="top:399.79px;font-size:11px;color:#222;line-height:20px;font-weight:700;letter-spacing:-0.150px;left:1037.20px;">Range</span><svg class="b" style="left:1036px;top:422px" width="17" height="17" viewBox="1036 422 17 17"><rect x="1037.70" y="423.80" width="13.60" height="13.60" rx="2.50" fill="#fff" stroke="#d9dcd7" stroke-width="1"/></svg><span class="t" id="t36" style="top:419.89px;font-size:11px;color:#333;line-height:20px;letter-spacing:0.253px;left:1062.10px;">Use independent axis range</span><svg class="b" style="left:1036px;top:443px" width="103" height="28" viewBox="1036 443 103 28"><rect x="1037.70" y="444.90" width="99.20" height="24.40" rx="6.50" fill="#fff" stroke="#dadcd8" stroke-width="1"/></svg><svg class="b" style="left:1150px;top:443px" width="103" height="28" viewBox="1150 443 103 28"><rect x="1151.50" y="444.90" width="99.90" height="24.40" rx="6.50" fill="#fff" stroke="#dadcd8" stroke-width="1"/></svg><span class="t" id="t37" style="top:448.04px;font-size:12px;color:#888;line-height:20px;letter-spacing:1.169px;left:1092.60px;">min</span><span class="t" id="t38" style="top:448.04px;font-size:12px;color:#888;line-height:20px;letter-spacing:0.265px;left:1204.50px;">max</span><div class="b" style="left:1142px;top:453.7px;width:5px;height:1.1px;background:#666"></div><span class="t" id="t39" style="top:478.19px;font-size:11px;color:#222;line-height:20px;font-weight:700;letter-spacing:0.043px;left:1037.20px;">Number format</span><svg class="b" style="left:1036px;top:497px" width="217" height="26" viewBox="1036 497 217 26"><rect x="1037.70" y="498.90" width="213.70" height="22.50" rx="6.50" fill="#fff" stroke="#b9bfba" stroke-width="1"/></svg><span class="t" id="t40" style="top:500.94px;font-size:12px;color:#444;line-height:20px;letter-spacing:0.229px;left:1046.40px;">Auto</span><svg class="b" style="left:1235px;top:508.79999999999995px" width="7.8" height="3.8" viewBox="0 0 7.8 3.8"><path d="M0 0H7.8L3.9 3.8Z" fill="#444"/></svg><span class="t" id="t41" style="top:529.89px;font-size:11px;color:#222;line-height:20px;font-weight:700;letter-spacing:0.022px;left:1037.20px;">Scale type</span><svg class="b" style="left:1036px;top:549px" width="217" height="26" viewBox="1036 549 217 26"><rect x="1037.70" y="550.90" width="213.70" height="22.50" rx="6.50" fill="#fff" stroke="#b9bfba" stroke-width="1"/></svg><span class="t" id="t42" style="top:553.04px;font-size:12px;color:#444;line-height:20px;letter-spacing:0.008px;left:1046.40px;">Linear</span><svg class="b" style="left:1235px;top:560.9px" width="7.8" height="3.8" viewBox="0 0 7.8 3.8"><path d="M0 0H7.8L3.9 3.8Z" fill="#444"/></svg></div></div></div><div class="panel" style="top:774px"><div class="frame"><div class="o"><div class="b" style="left:55px;top:116px;width:1204px;height:1px;background:#e2e3e0"></div><div class="b" style="left:150px;top:67px;width:1px;height:49px;background:#e6e7e4"></div><div class="b" style="left:259px;top:67px;width:1px;height:49px;background:#e6e7e4"></div><div class="b" style="left:428px;top:67px;width:1px;height:49px;background:#e6e7e4"></div><svg class="b" style="left:55px;top:67px" width="500" height="49" viewBox="55 67 500 49" fill="none" stroke-linecap="round" stroke-linejoin="round"><path d="M92.8 91.55H78.6" stroke="#606360" stroke-width="1.25" stroke-linecap="butt"/><path d="M76 91.55L81 87V88.9L79.1 91.55L81 94.2V96.4Z" fill="#606360" stroke="none"/><path d="M112.2 91.55H126.4" stroke="#dcdcdc" stroke-width="1.25" stroke-linecap="butt"/><path d="M129 91.55L124 87V88.9L125.9 91.55L124 94.2V96.4Z" fill="#dcdcdc" stroke="none"/><path d="M177.4 86.6V86.2Q177.4 83.5 180.2 83.5H188.6Q191.4 83.5 191.4 86.2V91.8Q191.4 94.5 188.6 94.5H185.4" stroke="#555" stroke-width="1.1" stroke-dasharray="2.7 1.5" stroke-linecap="butt"/><rect x="170.7" y="87.4" width="13.8" height="11" rx="2.8" fill="#fff" stroke="#555" stroke-width="1.2"/><path d="M171.2 89.4H184M177.5 91.1V95.9M175.1 93.5H179.9" stroke="#555" stroke-width="1.1" stroke-linecap="butt"/><path d="M219 85.6H210.2Q207.6 85.6 207.6 88.2V95.7Q207.6 98.3 210.2 98.3H223.2Q225.8 98.3 225.8 95.7V94.2" stroke="#555" stroke-width="1.15" stroke-linecap="butt"/><path d="M207.8 87.7H219" stroke="#555" stroke-width="1" stroke-linecap="butt"/><path d="M212.3 94V98M215.5 91.1V98M218.5 94V98M221.6 95.4V98" stroke="#555" stroke-width="1.05" stroke-linecap="butt"/><path d="M221.3 86.3L226.7 91.7M226.7 86.3L221.3 91.7" stroke="#555" stroke-width="1.05"/><path d="M232.4 90.3H242L237.2 94.8Z" fill="#d3d6d3"/><path d="M284.45 83.2V98.7M280.2 87.45H296" stroke="#555" stroke-width="1.25" stroke-linecap="butt"/><path d="M296.6 92.2Q296.6 98.8 289.4 99.5" stroke="#555" stroke-width="1.3"/><path d="M294.3 94L296.6 91.5L298.9 93.9M291 97.2L288.6 99.6L290.9 101.8" stroke="#555" stroke-width="1.3"/><path d="M325.3 82.1V91.5H339.9M328.5 86.2V91.2M331.6 82.1V91.2M334.6 86.2V91.2M337.5 88.4V91.2" stroke="#dcdcdc" stroke-width="1.05" stroke-linecap="butt"/><path d="M325.6 98.4H339.6M328.4 95.4L325.3 98.4L328.4 101.4M336.8 95.4L339.9 98.4L336.8 101.4" stroke="#dcdcdc" stroke-width="1.3"/><path d="M346.6 90.5H356L351.3 94.8Z" fill="#d9dbd9"/><path d="M396.1 90.6H406L401.05 95Z" fill="#555"/><path d="M453.4 97V86.6M450.4 89.6L453.4 86.5L456.4 89.6" stroke="#dcdcdc" stroke-width="1.2"/><path d="M460.0 86.4H468.0M460.0 91.5H465.2M460.0 96.6H463.0" stroke="#dcdcdc" stroke-width="1.1" stroke-linecap="butt"/><path d="M489.3 86.3V96.8M486.3 93.8L489.3 96.9L492.3 93.8" stroke="#dcdcdc" stroke-width="1.2"/><path d="M495.90000000000003 86.4H503.90000000000003M495.90000000000003 91.5H501.1M495.90000000000003 96.6H498.90000000000003" stroke="#dcdcdc" stroke-width="1.1" stroke-linecap="butt"/></svg><span class="t" id="sig2" style="top:82.08px;font-size:19.4px;color:#555;line-height:20px;-webkit-text-stroke:0.5px #555;left:376.35px;transform:scaleX(1.07);transform-origin:0 50%;">Σ</span><div class="b" style="left:1031px;top:72px;width:226px;height:40px;border:1px solid #c2cac5;border-radius:9px;background:#fff"></div><svg class="b" style="left:1040px;top:72px" width="40" height="40" viewBox="1040 72 40 40"><path d="M1046.2 94.6L1058.6 98.6L1071.0 94.6L1071.0 100.3L1058.6 106.7L1046.2 100.3Z" fill="#22702d" stroke="#1c6229" stroke-width="0.6" stroke-linejoin="round"/><path d="M1046.2 97.6L1058.6 103.2L1071.0 97.6" fill="none" stroke="#2f8236" stroke-width="0.9"/><path d="M1046.2 88.8L1058.6 93.4L1071.0 88.8L1071.0 95.3L1058.6 99.6L1046.2 95.3Z" fill="#7ccd33" stroke="#5aa82c" stroke-width="0.5" stroke-linejoin="round"/><path d="M1046.2 92.2L1058.6 97.0L1071.0 92.2" fill="none" stroke="#64b52c" stroke-width="0.6"/><path d="M1046.2 84.8L1058.6 92.6L1071.0 84.8L1071.0 89.4L1058.6 94.4L1046.2 89.4Z" fill="#b6ea5f" stroke="#5e9e36" stroke-width="0.5" stroke-linejoin="round"/><path d="M1046.2 87.0L1058.6 93.6L1071.0 87.0" fill="none" stroke="#7fb848" stroke-width="0.45"/><path d="M1046.2 84.8L1058.6 77.0L1071.0 84.8L1058.6 92.6Z" fill="#c6f66f" stroke="#5e9e36" stroke-width="0.55" stroke-linejoin="round"/><path d="M1048.4 84.8L1058.6 78.4L1068.8 84.8L1058.6 91.2Z" fill="none" stroke="#a4d85a" stroke-width="0.4" stroke-linejoin="round"/><g fill="#0b4227" transform="translate(1058.6 84.8) scale(1.18) translate(-1058.9 -85.1)"><path d="M1051.2 84.6c.5-1.3 2.4-1.7 3.9-1l-1.1 1.1 1.1 1.1c-1.2.7-3.3.3-3.9-1.2z"/><path d="M1061 82.5l1.5-.9 4.6 2.6-1.5.9z"/><path d="M1059 84.2l1.5-.9 4.4 2.6-1.5.9z"/><path d="M1055 86.6l1.5-.9 4.2 2.6-1.5.9z"/><path d="M1057.2 85.4l1.5-.9 2.4 1.4-1.5.9z"/></g><path d="M1055.4 80.6l3.8 3.4" stroke="#4f8a38" stroke-width="0.9" fill="none" opacity="0.8"/></svg><span class="t" id="t44" style="top:82.22px;font-size:11.5px;color:#222;line-height:20px;-webkit-text-stroke:0.5px #222;letter-spacing:0.234px;left:1084.45px;word-spacing:1.6px;">VISUAL EXPLORER</span><svg class="b" style="left:1236px;top:90px" width="9" height="7" viewBox="0 0 9 7"><path d="M1.4 1.8L4.4 4.7L7.4 1.8" fill="none" stroke="#444" stroke-width="1.6" stroke-linecap="round" stroke-linejoin="round"/></svg><span class="t" id="t45" style="top:136.26px;font-size:18px;color:#333;line-height:20px;letter-spacing:0.282px;left:80.40px;">Order quantity Jan 2014-Dec 2016</span><svg class="b" style="left:55px;top:117px" width="764" height="682" viewBox="55 117 764 682"><line x1="148.5" x2="154.5" y1="681.50" y2="681.50" stroke="#ebebeb" stroke-width="1"/><text x="144.6" y="680.0" text-anchor="end" font-size="11" fill="#555">0</text><line x1="157" x2="808" y1="624.86" y2="624.86" stroke="#f1f1f1" stroke-width="1"/><line x1="148.5" x2="154.5" y1="624.86" y2="624.86" stroke="#ebebeb" stroke-width="1"/><text x="144.6" y="629.1" text-anchor="end" font-size="11" fill="#555" textLength="52.1" lengthAdjust="spacing">1,000,000</text><line x1="157" x2="808" y1="569.21" y2="569.21" stroke="#f1f1f1" stroke-width="1"/><line x1="148.5" x2="154.5" y1="569.21" y2="569.21" stroke="#ebebeb" stroke-width="1"/><text x="144.6" y="573.4" text-anchor="end" font-size="11" fill="#555" textLength="52.1" lengthAdjust="spacing">2,000,000</text><line x1="157" x2="808" y1="513.57" y2="513.57" stroke="#f1f1f1" stroke-width="1"/><line x1="148.5" x2="154.5" y1="513.57" y2="513.57" stroke="#ebebeb" stroke-width="1"/><text x="144.6" y="517.8" text-anchor="end" font-size="11" fill="#555" textLength="52.1" lengthAdjust="spacing">3,000,000</text><line x1="157" x2="808" y1="457.92" y2="457.92" stroke="#f1f1f1" stroke-width="1"/><line x1="148.5" x2="154.5" y1="457.92" y2="457.92" stroke="#ebebeb" stroke-width="1"/><text x="144.6" y="462.1" text-anchor="end" font-size="11" fill="#555" textLength="52.1" lengthAdjust="spacing">4,000,000</text><line x1="157" x2="808" y1="402.27" y2="402.27" stroke="#f1f1f1" stroke-width="1"/><line x1="148.5" x2="154.5" y1="402.27" y2="402.27" stroke="#ebebeb" stroke-width="1"/><text x="144.6" y="406.5" text-anchor="end" font-size="11" fill="#555" textLength="52.1" lengthAdjust="spacing">5,000,000</text><line x1="157" x2="808" y1="346.63" y2="346.63" stroke="#f1f1f1" stroke-width="1"/><line x1="148.5" x2="154.5" y1="346.63" y2="346.63" stroke="#ebebeb" stroke-width="1"/><text x="144.6" y="350.8" text-anchor="end" font-size="11" fill="#555" textLength="52.1" lengthAdjust="spacing">6,000,000</text><line x1="157" x2="808" y1="290.98" y2="290.98" stroke="#f1f1f1" stroke-width="1"/><line x1="148.5" x2="154.5" y1="290.98" y2="290.98" stroke="#ebebeb" stroke-width="1"/><text x="144.6" y="295.2" text-anchor="end" font-size="11" fill="#555" textLength="52.1" lengthAdjust="spacing">7,000,000</text><line x1="157" x2="808" y1="235.34" y2="235.34" stroke="#f1f1f1" stroke-width="1"/><line x1="148.5" x2="154.5" y1="235.34" y2="235.34" stroke="#ebebeb" stroke-width="1"/><text x="144.6" y="239.5" text-anchor="end" font-size="11" fill="#555" textLength="52.1" lengthAdjust="spacing">8,000,000</text><line x1="157" x2="808" y1="179.69" y2="179.69" stroke="#f1f1f1" stroke-width="1"/><line x1="148.5" x2="154.5" y1="179.69" y2="179.69" stroke="#ebebeb" stroke-width="1"/><text x="144.6" y="183.9" text-anchor="end" font-size="11" fill="#555" textLength="52.1" lengthAdjust="spacing">9,000,000</text><line x1="156.7" x2="156.7" y1="171.2" y2="682" stroke="#cfcfcf" stroke-width="1.3"/><line x1="156" x2="808.8" y1="681.6" y2="681.6" stroke="#cfcfcf" stroke-width="1.3"/><line x1="183.30" x2="183.30" y1="682" y2="688" stroke="#e6e6e6" stroke-width="1.1"/><text transform="translate(187.20,689.2) rotate(-90)" text-anchor="end" font-size="11" fill="#555" textLength="47.9" lengthAdjust="spacing">Jan 2014</text><line x1="215.55" x2="215.55" y1="682" y2="688" stroke="#e6e6e6" stroke-width="1.1"/><text transform="translate(219.45,689.2) rotate(-90)" text-anchor="end" font-size="11" fill="#555" textLength="48.8" lengthAdjust="spacing">Mar 2014</text><line x1="248.89" x2="248.89" y1="682" y2="688" stroke="#e6e6e6" stroke-width="1.1"/><text transform="translate(252.79,689.2) rotate(-90)" text-anchor="end" font-size="11" fill="#555" textLength="46.9" lengthAdjust="spacing">May 20...</text><line x1="282.23" x2="282.23" y1="682" y2="688" stroke="#e6e6e6" stroke-width="1.1"/><text transform="translate(286.13,689.2) rotate(-90)" text-anchor="end" font-size="11" fill="#555" textLength="44.9" lengthAdjust="spacing">Jul 2014</text><line x1="316.12" x2="316.12" y1="682" y2="688" stroke="#e6e6e6" stroke-width="1.1"/><text transform="translate(320.02,689.2) rotate(-90)" text-anchor="end" font-size="11" fill="#555" textLength="49.4" lengthAdjust="spacing">Sep 2014</text><line x1="349.47" x2="349.47" y1="682" y2="688" stroke="#e6e6e6" stroke-width="1.1"/><text transform="translate(353.37,689.2) rotate(-90)" text-anchor="end" font-size="11" fill="#555" textLength="49.3" lengthAdjust="spacing">Nov 2014</text><line x1="382.81" x2="382.81" y1="682" y2="688" stroke="#e6e6e6" stroke-width="1.1"/><text transform="translate(386.71,689.2) rotate(-90)" text-anchor="end" font-size="11" fill="#555" textLength="47.9" lengthAdjust="spacing">Jan 2015</text><line x1="415.06" x2="415.06" y1="682" y2="688" stroke="#e6e6e6" stroke-width="1.1"/><text transform="translate(418.96,689.2) rotate(-90)" text-anchor="end" font-size="11" fill="#555" textLength="48.8" lengthAdjust="spacing">Mar 2015</text><line x1="448.40" x2="448.40" y1="682" y2="688" stroke="#e6e6e6" stroke-width="1.1"/><text transform="translate(452.30,689.2) rotate(-90)" text-anchor="end" font-size="11" fill="#555" textLength="46.9" lengthAdjust="spacing">May 20...</text><line x1="481.74" x2="481.74" y1="682" y2="688" stroke="#e6e6e6" stroke-width="1.1"/><text transform="translate(485.64,689.2) rotate(-90)" text-anchor="end" font-size="11" fill="#555" textLength="44.9" lengthAdjust="spacing">Jul 2015</text><line x1="515.63" x2="515.63" y1="682" y2="688" stroke="#e6e6e6" stroke-width="1.1"/><text transform="translate(519.53,689.2) rotate(-90)" text-anchor="end" font-size="11" fill="#555" textLength="49.4" lengthAdjust="spacing">Sep 2015</text><line x1="548.98" x2="548.98" y1="682" y2="688" stroke="#e6e6e6" stroke-width="1.1"/><text transform="translate(552.88,689.2) rotate(-90)" text-anchor="end" font-size="11" fill="#555" textLength="49.3" lengthAdjust="spacing">Nov 2015</text><line x1="582.32" x2="582.32" y1="682" y2="688" stroke="#e6e6e6" stroke-width="1.1"/><text transform="translate(586.22,689.2) rotate(-90)" text-anchor="end" font-size="11" fill="#555" textLength="47.9" lengthAdjust="spacing">Jan 2016</text><line x1="615.11" x2="615.11" y1="682" y2="688" stroke="#e6e6e6" stroke-width="1.1"/><text transform="translate(619.01,689.2) rotate(-90)" text-anchor="end" font-size="11" fill="#555" textLength="48.8" lengthAdjust="spacing">Mar 2016</text><line x1="648.46" x2="648.46" y1="682" y2="688" stroke="#e6e6e6" stroke-width="1.1"/><text transform="translate(652.36,689.2) rotate(-90)" text-anchor="end" font-size="11" fill="#555" textLength="46.9" lengthAdjust="spacing">May 20...</text><line x1="681.80" x2="681.80" y1="682" y2="688" stroke="#e6e6e6" stroke-width="1.1"/><text transform="translate(685.70,689.2) rotate(-90)" text-anchor="end" font-size="11" fill="#555" textLength="44.9" lengthAdjust="spacing">Jul 2016</text><line x1="715.69" x2="715.69" y1="682" y2="688" stroke="#e6e6e6" stroke-width="1.1"/><text transform="translate(719.59,689.2) rotate(-90)" text-anchor="end" font-size="11" fill="#555" textLength="49.4" lengthAdjust="spacing">Sep 2016</text><line x1="749.03" x2="749.03" y1="682" y2="688" stroke="#e6e6e6" stroke-width="1.1"/><text transform="translate(752.93,689.2) rotate(-90)" text-anchor="end" font-size="11" fill="#555" textLength="49.3" lengthAdjust="spacing">Nov 2016</text><line x1="782.37" x2="782.37" y1="682" y2="688" stroke="#e6e6e6" stroke-width="1.1"/><text transform="translate(786.27,689.2) rotate(-90)" text-anchor="end" font-size="11" fill="#555" textLength="47.9" lengthAdjust="spacing">Jan 2017</text><polyline points="183.3,516.0 200.2,497.5 215.5,497.3 232.5,489.4 248.9,513.3 265.8,511.1 282.2,512.3 299.2,480.0 316.1,512.3 332.5,415.1 349.5,500.1 365.9,479.8 382.8,482.2 399.8,483.3 415.1,381.5 432.0,455.6 448.4,473.1 465.3,466.3 481.7,446.4 498.7,449.2 515.6,407.7 532.0,416.8 549.0,382.0 565.4,410.3 582.3,408.5 599.3,415.4 615.1,384.7 632.1,383.3 648.5,380.0 665.4,203.0 681.8,321.4 698.7,342.5 715.7,348.0 732.1,318.0 749.0,347.9 765.4,334.8" fill="none" stroke="#503ab5" stroke-width="2" stroke-linejoin="miter" stroke-linecap="butt"/><polyline points="183.3,580.5 200.2,584.8 215.5,581.8 232.5,582.0 248.9,578.0 265.8,578.0 282.2,572.0 299.2,571.7 316.1,576.6 332.5,556.8 349.5,571.1 365.9,564.2 382.8,557.4 399.8,565.7 415.1,560.9 432.0,566.1 448.4,555.1 465.3,557.6 481.7,544.8 498.7,555.4 515.6,534.1 532.0,529.8 549.0,525.8 565.4,525.5 582.3,523.8 599.3,525.7 615.1,508.4 632.1,495.1 648.5,511.3 665.4,387.3 681.8,496.0 698.7,479.1 715.7,487.8 732.1,490.6 749.0,495.6 765.4,493.9" fill="none" stroke="#6bbd22" stroke-width="2" stroke-linejoin="miter" stroke-linecap="butt"/><polyline points="183.3,639.3 200.2,629.5 215.5,634.0 232.5,625.1 248.9,642.7 265.8,640.6 282.2,642.7 299.2,623.8 316.1,647.4 332.5,618.8 349.5,636.9 365.9,632.8 382.8,631.8 399.8,637.5 415.1,536.0 432.0,637.1 448.4,628.2 465.3,627.0 481.7,621.4 498.7,611.7 515.6,586.0 532.0,609.2 549.0,617.2 565.4,614.2 582.3,609.9 599.3,612.0 615.1,607.7 632.1,612.1 648.5,598.4 665.4,547.0 681.8,593.1 698.7,596.1 715.7,604.9 732.1,606.9 749.0,592.7 765.4,603.9" fill="none" stroke="#b8cefa" stroke-width="2" stroke-linejoin="miter" stroke-linecap="butt"/><polyline points="183.3,657.1 200.2,644.3 215.5,642.1 232.5,642.8 248.9,652.6 265.8,653.1 282.2,658.4 299.2,645.3 316.1,648.1 332.5,602.2 349.5,652.6 365.9,643.4 382.8,653.5 399.8,640.7 415.1,645.0 432.0,613.6 448.4,649.9 465.3,642.8 481.7,641.5 498.7,642.9 515.6,649.0 532.0,638.6 549.0,601.1 565.4,631.8 582.3,635.8 599.3,639.6 615.1,629.4 632.1,637.6 648.5,631.3 665.4,630.1 681.8,592.8 698.7,627.5 715.7,616.2 732.1,582.5 749.0,620.0 765.4,597.4" fill="none" stroke="#fbb37c" stroke-width="2" stroke-linejoin="miter" stroke-linecap="butt"/><text x="665.4" y="197.0" text-anchor="middle" font-size="11" textLength="47.4" lengthAdjust="spacing" fill="#fff" stroke="#fff" stroke-width="3" stroke-linejoin="round" aria-hidden="true">8,576,841</text><text x="665.4" y="197.0" text-anchor="middle" font-size="11" textLength="47.4" lengthAdjust="spacing" fill="#222">8,576,841</text><text x="665.4" y="381.9" text-anchor="middle" font-size="11" textLength="48.8" lengthAdjust="spacing" fill="#fff" stroke="#fff" stroke-width="3" stroke-linejoin="round" aria-hidden="true">5,254,876</text><text x="665.4" y="381.9" text-anchor="middle" font-size="11" textLength="48.8" lengthAdjust="spacing" fill="#222">5,254,876</text><text x="415.1" y="529.7" text-anchor="middle" font-size="11" textLength="48.2" lengthAdjust="spacing" fill="#fff" stroke="#fff" stroke-width="3" stroke-linejoin="round" aria-hidden="true">2,591,439</text><text x="415.1" y="529.7" text-anchor="middle" font-size="11" textLength="48.2" lengthAdjust="spacing" fill="#222">2,591,439</text><text x="732.1" y="575.0" text-anchor="middle" font-size="11" textLength="45.4" lengthAdjust="spacing" fill="#fff" stroke="#fff" stroke-width="3" stroke-linejoin="round" aria-hidden="true">1,777,598</text><text x="732.1" y="575.0" text-anchor="middle" font-size="11" textLength="45.4" lengthAdjust="spacing" fill="#222">1,777,598</text><text x="183.0" y="528.4" text-anchor="middle" font-size="11" textLength="48.5" lengthAdjust="spacing" fill="#fff" stroke="#fff" stroke-width="3" stroke-linejoin="round" aria-hidden="true">2,953,214</text><text x="183.0" y="528.4" text-anchor="middle" font-size="11" textLength="48.5" lengthAdjust="spacing" fill="#222">2,953,214</text><text x="200.2" y="596.8" text-anchor="middle" font-size="11" textLength="45.6" lengthAdjust="spacing" fill="#fff" stroke="#fff" stroke-width="3" stroke-linejoin="round" aria-hidden="true">1,718,686</text><text x="200.2" y="596.8" text-anchor="middle" font-size="11" textLength="45.6" lengthAdjust="spacing" fill="#222">1,718,686</text><text x="281.8" y="671.0" text-anchor="middle" font-size="11" textLength="39.8" lengthAdjust="spacing" fill="#fff" stroke="#fff" stroke-width="3" stroke-linejoin="round" aria-hidden="true">391,645</text><text x="281.8" y="671.0" text-anchor="middle" font-size="11" textLength="39.8" lengthAdjust="spacing" fill="#222">391,645</text><text x="316.1" y="659.6" text-anchor="middle" font-size="11" textLength="39.8" lengthAdjust="spacing" fill="#fff" stroke="#fff" stroke-width="3" stroke-linejoin="round" aria-hidden="true">588,150</text><text x="316.1" y="659.6" text-anchor="middle" font-size="11" textLength="39.8" lengthAdjust="spacing" fill="#222">588,150</text><text x="482.8" y="752.6" text-anchor="middle" font-size="11" font-weight="700" fill="#555" textLength="150.6" lengthAdjust="spacing">MONTH(order_created_date)</text><text transform="translate(84.3,427.2) rotate(-90)" text-anchor="middle" font-size="11" font-weight="700" fill="#555" textLength="102.5" lengthAdjust="spacing">Paper type quantity</text><rect x="420.5" y="795.5" width="32" height="6" fill="#fff" stroke="#d3d7d4" stroke-width="1"/><rect x="423.5" y="797.6" width="2" height="1.6" fill="#cfd3d0"/><rect x="427.5" y="797.6" width="2" height="1.6" fill="#cfd3d0"/><rect x="431.5" y="797.6" width="2" height="1.6" fill="#cfd3d0"/><rect x="435.5" y="797.6" width="2" height="1.6" fill="#cfd3d0"/><rect x="439.5" y="797.6" width="2" height="1.6" fill="#cfd3d0"/><rect x="443.5" y="797.6" width="2" height="1.6" fill="#cfd3d0"/><rect x="447.5" y="797.6" width="2" height="1.6" fill="#cfd3d0"/></svg><div class="b" style="left:102px;top:779px;width:16px;height:16px;border:1px solid #e3e3e0;border-radius:3px;background:#fff"></div><div class="b" style="left:123px;top:779px;width:16px;height:16px;border:1px solid #e3e3e0;border-radius:3px;background:#fff"></div><div class="b" style="left:107px;top:786px;width:6px;height:1.8px;background:#444"></div><div class="b" style="left:128px;top:786px;width:6px;height:1.8px;background:#444"></div><div class="b" style="left:130.1px;top:784px;width:1.8px;height:6px;background:#444"></div><div class="b" style="left:819px;top:117px;width:210px;height:690px;background:#e9ece7;border-left:1px solid #e1e4df"></div><div class="card" style="left:825px;top:123px;width:198px;height:82px"></div><span class="t" id="t46" style="top:128.77px;font-size:12.5px;color:#222;line-height:20px;-webkit-text-stroke:0.28px #222;letter-spacing:0.032px;left:832.34px;">Columns (X)</span><svg class="b" style="left:829px;top:155px" width="190" height="24" viewBox="829 155 190 24"><rect x="830.20" y="156.00" width="187.80" height="22.00" rx="8.00" fill="#e6f1c1"/></svg><span class="t" id="t47" style="top:156.67px;font-size:12.5px;color:#222;line-height:20px;-webkit-text-stroke:0.28px #222;letter-spacing:0.020px;left:836.54px;">MONTH(order_created_d...</span><svg class="b" style="left:1002px;top:165.9px" width="7.8" height="4" viewBox="0 0 7.8 4"><path d="M0 0H7.8L3.9 4Z" fill="#2d6b22"/></svg><div class="card" style="left:825px;top:213px;width:198px;height:185px"></div><span class="t" id="t48" style="top:218.87px;font-size:12.5px;color:#222;line-height:20px;-webkit-text-stroke:0.28px #222;letter-spacing:-0.258px;left:832.14px;">Rows (Y)</span><div class="b" style="left:830px;top:246px;width:188px;height:125px;background:#e6f1c1;border-radius:8px"></div><div class="b" style="left:830px;top:246px;width:188px;height:24px;background:#f3f5f1;border-radius:8px 8px 0 0;border:1px solid #e6e9e4;border-bottom:none"></div><span class="t" id="t49" style="top:248.57px;font-size:12.5px;color:#222;line-height:20px;-webkit-text-stroke:0.28px #222;letter-spacing:-0.212px;left:836.14px;">Shared Axis 1</span><svg class="b" style="left:1001.2px;top:256px" width="7.8" height="4" viewBox="0 0 7.8 4"><path d="M0 0H7.8L3.9 4Z" fill="#666"/></svg><span class="t" id="t50" style="top:272.77px;font-size:12.5px;color:#222;line-height:20px;-webkit-text-stroke:0.28px #222;letter-spacing:0.008px;left:837.94px;">SUM(order_standard_qty)</span><svg class="b" style="left:1001.2px;top:281.70000000000005px" width="7.8" height="4" viewBox="0 0 7.8 4"><path d="M0 0H7.8L3.9 4Z" fill="#2d6b22"/></svg><span class="t" id="t51" style="top:294.72px;font-size:12.5px;color:#222;line-height:20px;-webkit-text-stroke:0.28px #222;letter-spacing:-0.056px;left:837.94px;">SUM(order_gloss_qty)</span><svg class="b" style="left:1001.2px;top:303.65000000000003px" width="7.8" height="4" viewBox="0 0 7.8 4"><path d="M0 0H7.8L3.9 4Z" fill="#2d6b22"/></svg><span class="t" id="t52" style="top:316.67px;font-size:12.5px;color:#222;line-height:20px;-webkit-text-stroke:0.28px #222;letter-spacing:0.014px;left:837.94px;">SUM(order_poster_qty)</span><svg class="b" style="left:1001.2px;top:325.6px" width="7.8" height="4" viewBox="0 0 7.8 4"><path d="M0 0H7.8L3.9 4Z" fill="#2d6b22"/></svg><span class="t" id="t53" style="top:338.62px;font-size:12.5px;color:#222;line-height:20px;-webkit-text-stroke:0.28px #222;letter-spacing:0.026px;left:837.94px;">SUM(order_total_qty)</span><svg class="b" style="left:1001.2px;top:347.55000000000007px" width="7.8" height="4" viewBox="0 0 7.8 4"><path d="M0 0H7.8L3.9 4Z" fill="#2d6b22"/></svg><div class="card" style="left:825px;top:406px;width:198px;height:310px"></div><span class="t" id="t54" style="top:413.77px;font-size:12.5px;color:#1a1a1a;line-height:20px;font-weight:700;letter-spacing:-0.489px;left:833.30px;">All Layers</span><div class="b" style="left:826px;top:439px;width:196px;height:1px;background:#c9cfcb"></div><svg class="b" style="left:836.3px;top:452.4px" width="11" height="8" viewBox="0 0 11 8" fill="none" stroke="#555" stroke-linecap="round" stroke-linejoin="round"><path d="M0.8 4.6L3.4 2.7L5.6 3.9L9.6 0.8" stroke-width="1.1"/><path d="M0.6 7H10.2" stroke-width="1.2"/></svg><span class="t" id="t55" style="top:444.84px;font-size:12px;color:#444;line-height:20px;letter-spacing:-0.271px;left:854.20px;">Line</span><svg class="b" style="left:1006.4px;top:453.6px" width="7.4" height="4" viewBox="0 0 7.4 4"><path d="M0 0H7.4L3.7 4Z" fill="#555"/></svg><div class="b" style="left:826px;top:470px;width:196px;height:1px;background:#c9cfcb"></div><svg class="b" style="left:829px;top:478px" width="24" height="24" viewBox="829 478 24 24"><rect x="830.70" y="479.90" width="20.40" height="19.80" rx="6.50" fill="#fff" stroke="#dcdfda" stroke-width="1"/></svg><svg class="b" style="left:834px;top:484.6px" width="15" height="11" viewBox="0 0 15 11"><path d="M3.6 0H4.2V10.4H3.6Q0 10.4 0 6.8V3.6Q0 0 3.6 0Z" fill="#4169d8"/><rect x="5" y="0" width="4" height="10.4" fill="#e8b93c"/><path d="M9.9 0H10.6Q14.2 0 14.2 3.6V6.8Q14.2 10.4 10.6 10.4H9.9Z" fill="#f47a8e"/></svg><svg class="b" style="left:855px;top:478px" width="164" height="24" viewBox="855 478 164 24"><rect x="856.70" y="480.00" width="160.60" height="19.70" rx="7.50" fill="#fff" stroke="#cfd3ce" stroke-width="1"/></svg><span class="t" id="t56" style="top:479.92px;font-size:11.5px;color:#777;line-height:20px;letter-spacing:0.075px;left:865.40px;">Add a field to Color</span><svg class="b" style="left:833px;top:508px" width="17" height="16" viewBox="0 0 17 16" fill="none" stroke="#555" stroke-width="1"><circle cx="9.4" cy="6.4" r="5.4"/><circle cx="5.4" cy="10.6" r="3.9"/></svg><svg class="b" style="left:855px;top:504px" width="164" height="24" viewBox="855 504 164 24"><rect x="856.70" y="506.00" width="160.60" height="19.70" rx="7.50" fill="#fff" stroke="#cfd3ce" stroke-width="1"/></svg><span class="t" id="t57" style="top:506.12px;font-size:11.5px;color:#777;line-height:20px;letter-spacing:-0.028px;left:865.40px;">Add a field to Size</span><span class="t" id="t58" style="top:531.81px;font-size:14.7px;color:#444;line-height:20px;-webkit-text-stroke:0.3px #444;left:835.95px;font-family:&quot;Liberation Serif&quot;,serif;transform:scaleX(1.15);transform-origin:0 50%;">T</span><svg class="b" style="left:855px;top:530px" width="164" height="24" viewBox="855 530 164 24"><rect x="856.20" y="531.30" width="161.60" height="21.10" rx="8.00" fill="#ebede9"/></svg><span class="t" id="t59" style="top:531.01px;font-size:11.8px;color:#222;line-height:20px;-webkit-text-stroke:0.45px #222;font-style:italic;letter-spacing:0.080px;left:863.53px;">Multiple</span><svg class="b" style="left:1002.4px;top:540.8px" width="7.6" height="4" viewBox="0 0 7.6 4"><path d="M0 0H7.6L3.8 4Z" fill="#777"/></svg><svg class="b" style="left:835.5px;top:563px" width="12" height="11" viewBox="0 0 12 11" fill="none" stroke="#555" stroke-width="1"><rect x="3.9" y="0.6" width="3.2" height="3.2"/><rect x="0.8" y="6.4" width="3.2" height="3.2"/><rect x="7" y="6.4" width="3.2" height="3.2"/></svg><svg class="b" style="left:855px;top:556px" width="164" height="24" viewBox="855 556 164 24"><rect x="856.70" y="557.90" width="160.60" height="19.90" rx="7.50" fill="#fff" stroke="#cfd3ce" stroke-width="1"/></svg><span class="t" id="t60" style="top:557.92px;font-size:11.5px;color:#777;line-height:20px;letter-spacing:0.046px;left:865.40px;">Add a field to Detail</span><div class="b" style="left:826px;top:587px;width:196px;height:1px;background:#e6e8e4"></div><span class="t" id="t61" style="top:594.47px;font-size:12.5px;color:#1a1a1a;line-height:20px;-webkit-text-stroke:0.5px #1a1a1a;letter-spacing:-0.076px;left:833.55px;">SUM(order_standard_q...</span><svg class="b" style="left:998.6px;top:600.7px" width="11" height="8" viewBox="0 0 11 8" fill="none" stroke="#333" stroke-linecap="round" stroke-linejoin="round"><path d="M0.8 4.6L3.4 2.7L5.6 3.9L9.6 0.8" stroke-width="1.1"/><path d="M0.6 7H10.2" stroke-width="1.2"/></svg><div class="b" style="left:826px;top:619px;width:196px;height:1px;background:#e6e8e4"></div><span class="t" id="t62" style="top:626.50px;font-size:12.5px;color:#1a1a1a;line-height:20px;-webkit-text-stroke:0.5px #1a1a1a;letter-spacing:-0.078px;left:833.55px;">SUM(order_gloss_qty)</span><svg class="b" style="left:998.6px;top:632.73px" width="11" height="8" viewBox="0 0 11 8" fill="none" stroke="#333" stroke-linecap="round" stroke-linejoin="round"><path d="M0.8 4.6L3.4 2.7L5.6 3.9L9.6 0.8" stroke-width="1.1"/><path d="M0.6 7H10.2" stroke-width="1.2"/></svg><div class="b" style="left:826px;top:651px;width:196px;height:1px;background:#e6e8e4"></div><span class="t" id="t63" style="top:658.53px;font-size:12.5px;color:#1a1a1a;line-height:20px;-webkit-text-stroke:0.5px #1a1a1a;letter-spacing:0.003px;left:833.55px;">SUM(order_poster_qty)</span><svg class="b" style="left:998.6px;top:664.76px" width="11" height="8" viewBox="0 0 11 8" fill="none" stroke="#333" stroke-linecap="round" stroke-linejoin="round"><path d="M0.8 4.6L3.4 2.7L5.6 3.9L9.6 0.8" stroke-width="1.1"/><path d="M0.6 7H10.2" stroke-width="1.2"/></svg><div class="b" style="left:826px;top:683px;width:196px;height:1px;background:#e6e8e4"></div><span class="t" id="t64" style="top:690.56px;font-size:12.5px;color:#1a1a1a;line-height:20px;-webkit-text-stroke:0.5px #1a1a1a;letter-spacing:0.014px;left:833.55px;">SUM(order_total_qty)</span><svg class="b" style="left:998.6px;top:696.7900000000001px" width="11" height="8" viewBox="0 0 11 8" fill="none" stroke="#333" stroke-linecap="round" stroke-linejoin="round"><path d="M0.8 4.6L3.4 2.7L5.6 3.9L9.6 0.8" stroke-width="1.1"/><path d="M0.6 7H10.2" stroke-width="1.2"/></svg><div class="card" style="left:825px;top:724px;width:198px;height:100px"></div><span class="t" id="t65" style="top:729.67px;font-size:12.5px;color:#222;line-height:20px;-webkit-text-stroke:0.28px #222;letter-spacing:0.224px;left:831.54px;">Filters</span><svg class="b" style="left:828px;top:755px" width="191" height="25" viewBox="828 755 191 25"><rect x="829.80" y="756.70" width="188.00" height="21.90" rx="8.00" fill="#dce5fa"/></svg><span class="t" id="t66" style="top:758.57px;font-size:12.5px;color:#222;line-height:20px;-webkit-text-stroke:0.28px #222;letter-spacing:-0.108px;left:837.24px;">YEAR(order_created_date)</span><svg class="b" style="left:1002.2px;top:766.8px" width="7.6" height="4" viewBox="0 0 7.6 4"><path d="M0 0H7.6L3.8 4Z" fill="#3a62d8"/></svg><div class="b" style="left:1029px;top:117px;width:230px;height:690px;background:#fff"></div><div class="b" style="left:1029px;top:163px;width:230px;height:1px;background:#e2e3e0"></div><div class="b" style="left:1146px;top:161px;width:80px;height:2px;background:#6bbd22"></div><span class="t" id="t67" style="top:129.90px;font-size:12.7px;color:#555;line-height:20px;-webkit-text-stroke:0.4px #555;letter-spacing:-0.515px;left:1089.40px;">Data</span><span class="t" id="t68" style="top:129.90px;font-size:12.7px;color:#222;line-height:20px;-webkit-text-stroke:0.4px #222;letter-spacing:0.029px;left:1165.20px;">Format</span><span class="t" id="t69" style="top:172.99px;font-size:11px;color:#222;line-height:20px;font-weight:700;letter-spacing:0.004px;left:1037.20px;">Select a field to format</span><svg class="b" style="left:1036px;top:193px" width="217" height="26" viewBox="1036 193 217 26"><rect x="1037.70" y="194.60" width="213.70" height="22.50" rx="6.50" fill="#fff" stroke="#b9bfba" stroke-width="1"/></svg><span class="t" id="t70" style="top:197.04px;font-size:12px;color:#444;line-height:20px;letter-spacing:-0.119px;left:1046.40px;">Shared Axis 1</span><svg class="b" style="left:1235px;top:204.9px" width="7.8" height="3.8" viewBox="0 0 7.8 3.8"><path d="M0 0H7.8L3.9 3.8Z" fill="#444"/></svg><div class="b" style="left:1029px;top:226px;width:230px;height:32px;background:#f6f6f4;border-top:1px solid #ececea;border-bottom:1px solid #ececea"></div><svg class="b" style="left:1040.5px;top:241px" width="7.4" height="3.8" viewBox="0 0 7.4 3.8"><path d="M0 0H7.4L3.7 3.8Z" fill="#333"/></svg><span class="t" id="t71" style="top:231.79px;font-size:11px;color:#222;line-height:20px;font-weight:700;letter-spacing:-0.112px;left:1052.40px;">AXIS</span><svg class="b" style="left:1036px;top:266px" width="17" height="17" viewBox="1036 266 17 17"><rect x="1037.70" y="267.50" width="13.60" height="13.60" rx="2.50" fill="#fff" stroke="#d9dcd7" stroke-width="1"/></svg><svg class="b" style="left:1040px;top:270.4px" width="9" height="8" viewBox="0 0 9 8"><path d="M1.2 4.3L3.4 6.4L7.6 1.4" fill="none" stroke="#555" stroke-width="1.4"/></svg><span class="t" id="t72" style="top:263.79px;font-size:11px;color:#333;line-height:20px;letter-spacing:0.258px;left:1062.10px;">Show axis title</span><span class="t" id="t73" style="top:293.89px;font-size:11px;color:#222;line-height:20px;font-weight:700;letter-spacing:-0.081px;left:1037.20px;">Axis title</span><svg class="b" style="left:1036px;top:313px" width="217" height="29" viewBox="1036 313 217 29"><rect x="1037.70" y="314.50" width="213.70" height="25.20" rx="6.50" fill="#fff" stroke="#6b93f3" stroke-width="1"/></svg><span class="t" id="t74" style="top:318.14px;font-size:12px;color:#444;line-height:20px;letter-spacing:0.328px;left:1046.20px;">Paper type quantity</span><span class="t" id="t75" style="top:348.09px;font-size:11px;color:#222;line-height:20px;font-weight:700;letter-spacing:-0.062px;left:1037.20px;">Rotate labels</span><svg class="b" style="left:1036px;top:367px" width="217" height="26" viewBox="1036 367 217 26"><rect x="1037.70" y="368.80" width="213.70" height="22.50" rx="6.50" fill="#fff" stroke="#b9bfba" stroke-width="1"/></svg><span class="t" id="t76" style="top:371.24px;font-size:12px;color:#444;line-height:20px;letter-spacing:0.229px;left:1046.40px;">Auto</span><svg class="b" style="left:1235px;top:379.09999999999997px" width="7.8" height="3.8" viewBox="0 0 7.8 3.8"><path d="M0 0H7.8L3.9 3.8Z" fill="#444"/></svg><span class="t" id="t77" style="top:399.79px;font-size:11px;color:#222;line-height:20px;font-weight:700;letter-spacing:-0.150px;left:1037.20px;">Range</span><svg class="b" style="left:1036px;top:422px" width="17" height="17" viewBox="1036 422 17 17"><rect x="1037.70" y="423.80" width="13.60" height="13.60" rx="2.50" fill="#fff" stroke="#d9dcd7" stroke-width="1"/></svg><span class="t" id="t78" style="top:419.89px;font-size:11px;color:#333;line-height:20px;letter-spacing:0.253px;left:1062.10px;">Use independent axis range</span><svg class="b" style="left:1036px;top:443px" width="103" height="28" viewBox="1036 443 103 28"><rect x="1037.70" y="444.90" width="99.20" height="24.40" rx="6.50" fill="#fff" stroke="#dadcd8" stroke-width="1"/></svg><svg class="b" style="left:1150px;top:443px" width="103" height="28" viewBox="1150 443 103 28"><rect x="1151.50" y="444.90" width="99.90" height="24.40" rx="6.50" fill="#fff" stroke="#dadcd8" stroke-width="1"/></svg><span class="t" id="t79" style="top:448.04px;font-size:12px;color:#888;line-height:20px;letter-spacing:1.169px;left:1092.60px;">min</span><span class="t" id="t80" style="top:448.04px;font-size:12px;color:#888;line-height:20px;letter-spacing:0.265px;left:1204.50px;">max</span><div class="b" style="left:1142px;top:453.7px;width:5px;height:1.1px;background:#666"></div><span class="t" id="t81" style="top:478.19px;font-size:11px;color:#222;line-height:20px;font-weight:700;letter-spacing:0.043px;left:1037.20px;">Number format</span><svg class="b" style="left:1036px;top:497px" width="217" height="26" viewBox="1036 497 217 26"><rect x="1037.70" y="498.90" width="213.70" height="22.50" rx="6.50" fill="#fff" stroke="#b9bfba" stroke-width="1"/></svg><span class="t" id="t82" style="top:500.94px;font-size:12px;color:#444;line-height:20px;letter-spacing:0.229px;left:1046.40px;">Auto</span><svg class="b" style="left:1235px;top:508.79999999999995px" width="7.8" height="3.8" viewBox="0 0 7.8 3.8"><path d="M0 0H7.8L3.9 3.8Z" fill="#444"/></svg><span class="t" id="t83" style="top:529.89px;font-size:11px;color:#222;line-height:20px;font-weight:700;letter-spacing:0.022px;left:1037.20px;">Scale type</span><svg class="b" style="left:1036px;top:549px" width="217" height="26" viewBox="1036 549 217 26"><rect x="1037.70" y="550.90" width="213.70" height="22.50" rx="6.50" fill="#fff" stroke="#b9bfba" stroke-width="1"/></svg><span class="t" id="t84" style="top:553.04px;font-size:12px;color:#444;line-height:20px;letter-spacing:0.008px;left:1046.40px;">Linear</span><svg class="b" style="left:1235px;top:560.9px" width="7.8" height="3.8" viewBox="0 0 7.8 3.8"><path d="M0 0H7.8L3.9 3.8Z" fill="#444"/></svg></div></div><div class="hl" style="left:50px;top:339px;width:63px;height:181px"></div><div class="hl" style="left:1024px;top:289px;width:244px;height:63px"></div></div><span class="t" id="big" style="top:1609.34px;font-size:40px;color:#111;line-height:20px;-webkit-text-stroke:1.2px #111;letter-spacing:1.670px;left:52.90px;will-change:transform;">2.3</span></body></html>
